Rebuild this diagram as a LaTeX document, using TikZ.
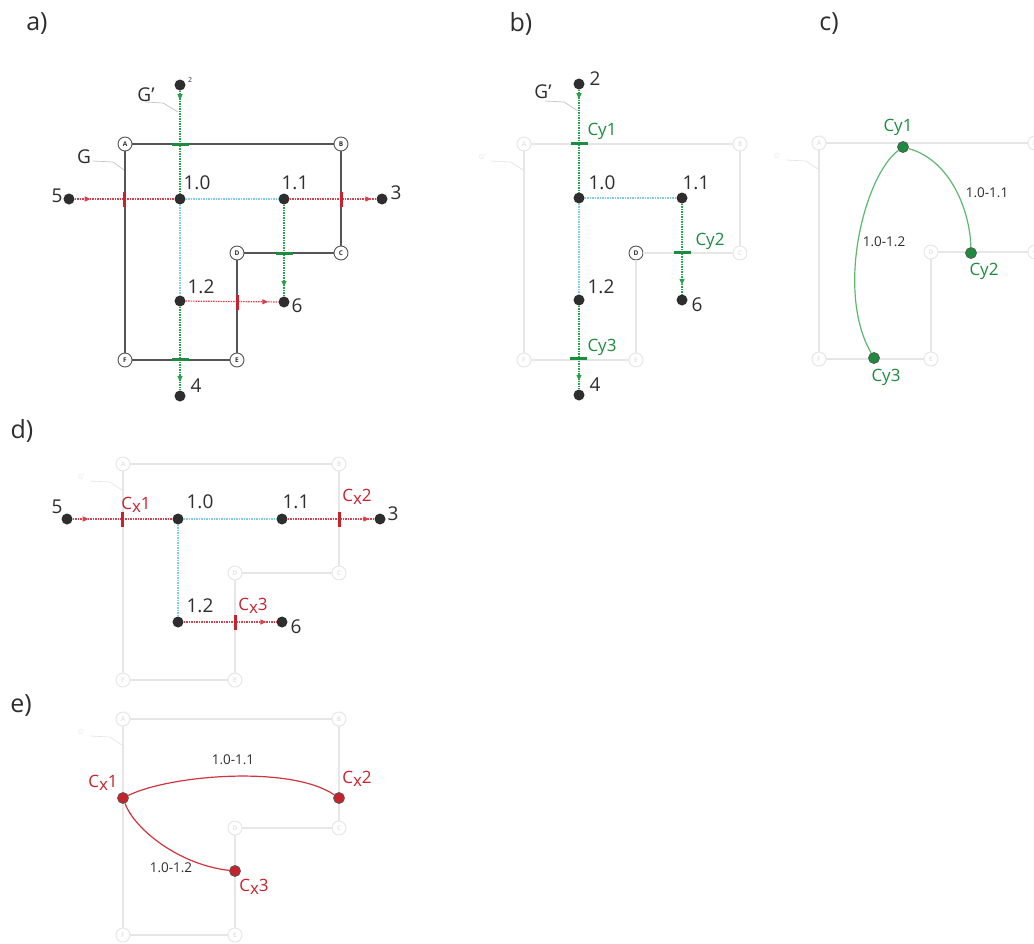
\documentclass[tikz,border=0pt]{standalone}
\usepackage{fontspec}
\setmainfont{Open Sans}
\usetikzlibrary{arrows.meta,decorations.markings}
\definecolor{gr}{HTML}{1E8C3F}
\definecolor{grd}{HTML}{28A04C}
\definecolor{grl}{HTML}{5DB871}
\definecolor{rd}{HTML}{C8232C}
\definecolor{rdd}{HTML}{D8404C}
\definecolor{rdl}{HTML}{D0343C}
\definecolor{bl}{HTML}{7FCBEC}
\definecolor{dk}{HTML}{2E2E2E}
\definecolor{ln}{HTML}{555555}
\definecolor{fa}{HTML}{E6E6E6}
\definecolor{ld}{HTML}{C4C4C4}
\tikzset{
 vtx/.style={circle, draw=ln, fill=white, line width=0.9pt, minimum size=14pt, inner sep=0pt, font=\fontsize{6.5}{7}\selectfont\bfseries, text=dk},
 fvtx/.style={vtx, draw=fa, text=fa},
 gline/.style={draw=ln, line width=1.1pt},
 fline/.style={draw=fa, line width=1.1pt},
 dot/.style={circle, fill=dk, inner sep=0pt, minimum size=11pt},
 gdot/.style={circle, fill=gr, draw=dk!80, line width=0.8pt, inner sep=0pt, minimum size=11pt},
 rdot/.style={circle, fill=rd, draw=dk!80, line width=0.8pt, inner sep=0pt, minimum size=11pt},
 rdash/.style={draw=rdd, line width=1.2pt, dash pattern=on 1.5pt off 1pt},
 gdash/.style={draw=grd, line width=1.2pt, dash pattern=on 1.5pt off 1pt},
 bdash/.style={draw=bl, line width=1.2pt, dash pattern=on 1.5pt off 1pt},
 tipat/.style={postaction={decorate}, decoration={markings, mark=at position #1 with {\arrow{Triangle[length=6pt,width=5pt]}}}},
 gcurve/.style={draw=grl, line width=1.2pt},
 rcurve/.style={draw=rdl, line width=1.2pt},
 num/.style={font=\fontsize{19}{20}\selectfont, text=dk, inner sep=0pt},
 tinynum/.style={font=\fontsize{7}{8}\selectfont, text=dk, inner sep=0pt},
 glab/.style={font=\fontsize{17}{18}\selectfont, text=gr, inner sep=0pt},
 rlab/.style={font=\fontsize{17}{18}\selectfont, text=rd, inner sep=0pt},
 elab/.style={font=\fontsize{13.5}{14}\selectfont, text=dk, inner sep=0pt},
 gtk/.style={rectangle, fill=gr, inner sep=0pt, minimum width=17pt, minimum height=3pt},
 rtk/.style={rectangle, fill=rd, inner sep=0pt, minimum width=3pt, minimum height=15pt},
 leader/.style={draw=ld, line width=0.7pt},
 fleader/.style={draw=fa, line width=0.7pt},
 flab/.style={font=\fontsize{7}{8}\selectfont, text=fa, inner sep=0pt},
 panel/.style={font=\fontsize{25}{27}\selectfont, text=dk, inner sep=0pt},
}
\newcommand{\basegraph}[3]{%
 \node[#1] (A) at (125,144) {A};
 \node[#1] (B) at (341,144) {B};
 \node[#1] (C) at (341,253) {C};
 \node[#3] (D) at (237,253) {D};
 \node[#1] (E) at (237,360) {E};
 \node[#1] (F) at (125,360) {F};
 \draw[#2] (A) -- (B) -- (C) -- (D) -- (E) -- (F) -- (A);
}
\newcommand{\fadedG}{%
 \node[flab] (G) at (83,157) {G’};
 \coordinate (g1) at (92,161);
 \coordinate (g2) at (112,162);
 \coordinate (g3) at (124,170);
 \draw[fleader] (g1) -- (g2) -- (g3);
}
\newcommand{\Cx}[1]{C\raisebox{-2.5pt}{x}#1}
\begin{document}
\begin{tikzpicture}[x=1pt,y=-1pt]
\useasboundingbox (0,0) rectangle (1034,943);
\fill[white] (0,0) rectangle (1034,943);

% ---------- panel labels
\node[panel] (la) at (37,24) {a)};
\node[panel] (lb) at (521,24) {b)};
\node[panel] (lc) at (829,24) {c)};
\node[panel] (ld) at (22,431) {d)};
\node[panel] (le) at (21,706) {e)};

% ---------- panel a
\begin{scope}[name prefix=a-]
 \basegraph{vtx}{gline}{vtx}
\end{scope}
\node[num] (aG) at (84,157) {G};
\coordinate (ag1) at (93,161);
\coordinate (ag2) at (113,162);
\coordinate (ag3) at (124,170);
\draw[leader] (ag1) -- (ag2) -- (ag3);
\node[num] (aGp) at (146,95) {G’};
\coordinate (agp1) at (145,102);
\coordinate (agp2) at (163,103);
\coordinate (agp3) at (178,112);
\draw[leader] (agp1) -- (agp2) -- (agp3);

\node[dot] (a2) at (180,85) {};
\node[dot] (a10) at (180,199) {};
\node[dot] (a11) at (284,199) {};
\node[dot] (a12) at (180,301) {};
\node[dot] (a5) at (69,199) {};
\node[dot] (a3) at (382,199) {};
\node[dot] (a6) at (284,302) {};
\node[dot] (a4) at (180,396) {};
\draw[gdash, tipat=9.5pt] (a2) -- (a10);
\draw[bdash] (a10) -- (a11);
\draw[bdash] (a10) -- (a12);
\draw[gdash, tipat=-9.5pt] (a11) -- (a6);
\draw[gdash, tipat=-8.5pt] (a12) -- (a4);
\draw[rdash, tipat=16pt] (a5) -- (a10);
\draw[rdash, tipat=-5pt] (a11) -- (a3);
\draw[rdash, tipat=-10pt] (a12) -- (a6);
\node[gtk] (aty1) at (180,144) {};
\node[gtk] (aty2) at (284,253) {};
\node[gtk] (aty3) at (180,359) {};
\node[rtk] (atx1) at (124,199) {};
\node[rtk] (atx2) at (341,199) {};
\node[rtk] (atx3) at (237,302) {};
\node[tinynum] (al2) at (190,80) {2};
\node[num] (al10) at (197,183) {1.0};
\node[num] (al11) at (295,183) {1.1};
\node[num] (al12) at (201,287) {1.2};
\node[num] (al5) at (57,196) {5};
\node[num] (al3) at (396,193) {3};
\node[num] (al6) at (297,306) {6};
\node[num] (al4) at (196,386) {4};

% ---------- panel b
\begin{scope}[shift={(399,0)}, name prefix=b-]
 \basegraph{fvtx}{fline}{vtx}
 \fadedG
\end{scope}
\node[num] (bGp) at (543,92) {G’};
\coordinate (bgp1) at (545,101);
\coordinate (bgp2) at (564,102);
\coordinate (bgp3) at (578,111);
\draw[leader] (bgp1) -- (bgp2) -- (bgp3);
\node[dot] (b2) at (579,84) {};
\node[dot] (b10) at (579,198) {};
\node[dot] (b11) at (682,198) {};
\node[dot] (b12) at (579,300) {};
\node[dot] (b6) at (682,300) {};
\node[dot] (b4) at (579,395) {};
\draw[gdash, tipat=9.5pt] (b2) -- (b10);
\draw[bdash] (b10) -- (b11);
\draw[bdash] (b10) -- (b12);
\draw[gdash, tipat=-9.5pt] (b11) -- (b6);
\draw[gdash, tipat=-8.5pt] (b12) -- (b4);
\node[gtk] (bty1) at (579,143) {};
\node[gtk] (bty2) at (682,252) {};
\node[gtk] (bty3) at (578,358) {};
\node[num] (bl2) at (595,79) {2};
\node[num] (bl10) at (602,183) {1.0};
\node[num] (bl11) at (696,183) {1.1};
\node[num] (bl12) at (601,287) {1.2};
\node[num] (bl6) at (697,305) {6};
\node[num] (bl4) at (595,385) {4};
\node[glab] (bc1) at (602,131) {Cy1};
\node[glab] (bc2) at (710,241) {Cy2};
\node[glab] (bc3) at (602,347) {Cy3};

% ---------- panel c
\begin{scope}[shift={(694,-1)}, name prefix=c-]
 \basegraph{fvtx}{fline}{fvtx}
 \fadedG
\end{scope}
\node[gdot] (cy1) at (903,147) {};
\node[gdot] (cy2) at (971,253) {};
\node[gdot] (cy3) at (874,358) {};
\draw[gcurve] (cy1) .. controls (950,160) and (970,210) .. (cy2);
\draw[gcurve] (cy1) .. controls (865,175) and (835,290) .. (cy3);
\node[glab] (cl1) at (898,127) {Cy1};
\node[glab] (cl2) at (984,271) {Cy2};
\node[glab] (cl3) at (886,377) {Cy3};
\node[elab] (ce1) at (987,193) {1.0-1.1};
\node[elab] (ce2) at (884,242) {1.0-1.2};

% ---------- panel d
\begin{scope}[shift={(-2,320)}, name prefix=d-]
 \basegraph{fvtx}{fline}{fvtx}
 \fadedG
\end{scope}
\node[dot] (d5) at (67,519) {};
\node[dot] (d10) at (178,519) {};
\node[dot] (d11) at (282,519) {};
\node[dot] (d3) at (380,519) {};
\node[dot] (d12) at (178,622) {};
\node[dot] (d6) at (282,622) {};
\draw[rdash, tipat=16pt] (d5) -- (d10);
\draw[bdash] (d10) -- (d11);
\draw[bdash] (d10) -- (d12);
\draw[rdash, tipat=-5pt] (d11) -- (d3);
\draw[rdash, tipat=-10pt] (d12) -- (d6);
\node[rtk] (dtx1) at (122,519) {};
\node[rtk] (dtx2) at (339,519) {};
\node[rtk] (dtx3) at (235,622) {};
\node[num] (dl5) at (57,507) {5};
\node[num] (dl10) at (200,502) {1.0};
\node[num] (dl11) at (296,502) {1.1};
\node[num] (dl3) at (393,514) {3};
\node[num] (dl12) at (200,606) {1.2};
\node[num] (dl6) at (296,627) {6};
\node[rlab] (dc1) at (136,505) {\Cx1};
\node[rlab] (dc2) at (357,497) {\Cx2};
\node[rlab] (dc3) at (253,606) {\Cx3};

% ---------- panel e
\begin{scope}[shift={(-2,575)}, name prefix=e-]
 \basegraph{fvtx}{fline}{fvtx}
 \fadedG
\end{scope}
\node[rdot] (ex1) at (123,798) {};
\node[rdot] (ex2) at (339,798) {};
\node[rdot] (ex3) at (235,871) {};
\draw[rcurve] (ex1) .. controls (170,775) and (290,765) .. (ex2);
\draw[rcurve] (ex1) .. controls (135,830) and (180,865) .. (ex3);
\node[rlab] (el1) at (103,783) {\Cx1};
\node[rlab] (el2) at (357,779) {\Cx2};
\node[rlab] (el3) at (254,887) {\Cx3};
\node[elab] (ee1) at (233,760) {1.0-1.1};
\node[elab] (ee2) at (171,868) {1.0-1.2};
\end{tikzpicture}
\end{document}
